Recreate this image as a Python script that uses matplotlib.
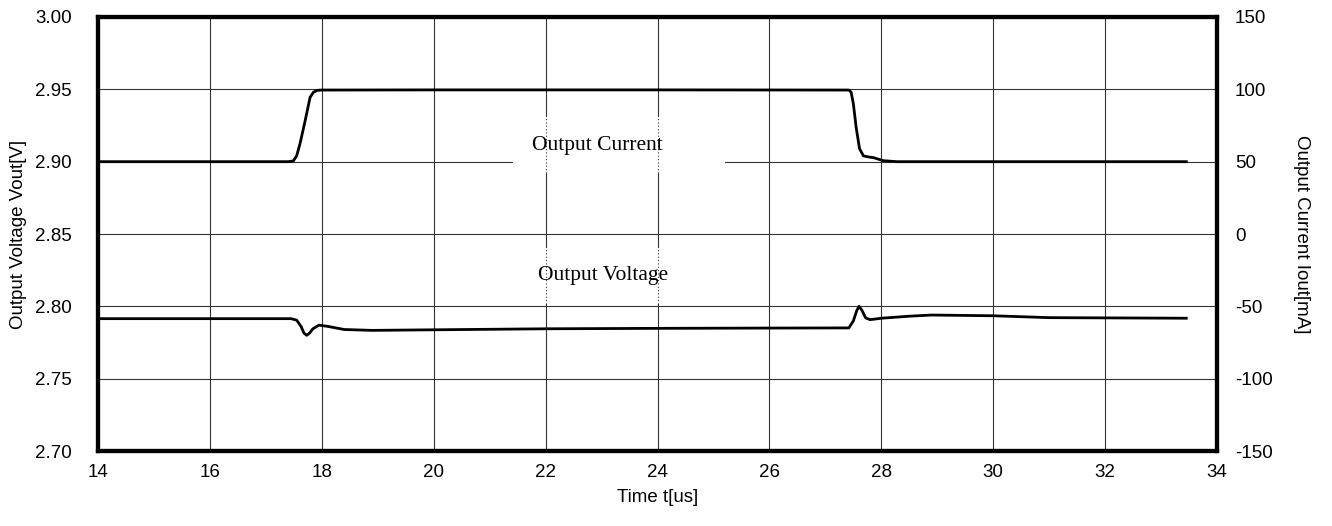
import matplotlib
matplotlib.use("Agg")
import matplotlib.pyplot as plt
from matplotlib.patches import Rectangle

# Output current [mA]
t_cur = [14.0, 17.40, 17.49, 17.55, 17.61, 17.70, 17.79, 17.85, 17.92, 18.0, 20.0, 24.0,
         27.42, 27.46, 27.50, 27.55, 27.61, 27.68, 27.78, 27.86, 28.03, 28.28, 30.0, 33.45]
i_cur = [50.0, 50.0, 50.5, 54.0, 62.5, 78.0, 94.5, 98.0, 99.3, 99.5, 99.6, 99.6,
         99.5, 98.0, 90.0, 73.6, 59.0, 54.0, 53.2, 52.8, 50.7, 50.0, 50.0, 50.0]

# Output voltage [V]
t_volt = [14.0, 17.45, 17.55, 17.63, 17.68, 17.73, 17.78, 17.84, 17.95, 18.1, 18.4, 18.9,
          20.0, 22.0, 24.0, 26.0, 27.42, 27.50, 27.56, 27.60, 27.65, 27.72, 27.80, 28.0,
          28.5, 28.9, 30.0, 31.0, 33.45]
v_volt = [2.7915, 2.7915, 2.7905, 2.7860, 2.7815, 2.7800, 2.7815, 2.7845, 2.7870, 2.7862,
          2.7840, 2.7834, 2.7838, 2.7845, 2.7848, 2.7850, 2.7851, 2.7900, 2.7970, 2.8000,
          2.7975, 2.7920, 2.7908, 2.7918, 2.7932, 2.7940, 2.7935, 2.7922, 2.7918]

x_ticks = list(range(14, 35, 2))
v_ticks = [2.70, 2.75, 2.80, 2.85, 2.90, 2.95, 3.00]
i_ticks = [-150, -100, -50, 0, 50, 100, 150]

plt.rcParams['font.family'] = ['Liberation Sans', 'DejaVu Sans']
plt.rcParams['axes.unicode_minus'] = False
fig = plt.figure(figsize=(13.32, 5.26), dpi=100)
ax = fig.add_axes([0.0736, 0.1425, 0.8401, 0.8252])
ax2 = ax.twinx()

ax.set_xlim(14, 34)
ax.set_ylim(2.70, 3.00)
ax2.set_ylim(-150, 150)
ax.set_xticks(x_ticks)
ax.set_yticks(v_ticks)
ax2.set_yticks(i_ticks)
ax.set_yticklabels([f"{v:.2f}" for v in v_ticks])
ax.grid(True, color='#333333', linewidth=0.8)
ax.set_axisbelow(True)

for a in (ax, ax2):
    for s in a.spines.values():
        s.set_linewidth(3.0)
        s.set_color('black')
ax.tick_params(axis='x', length=0, pad=9, labelsize=13.5)
ax.tick_params(axis='y', length=0, pad=19, labelsize=13.5)
ax2.tick_params(axis='y', length=0, pad=13, labelsize=13.5)

# label boxes (white background behind the annotations)
ax.add_patch(Rectangle((21.42, 2.892), 25.21 - 21.42, 2.9308 - 2.892,
                       facecolor='white', edgecolor='none', zorder=1.5))
ax.add_patch(Rectangle((21.42, 2.8015), 25.21 - 21.42, 2.840 - 2.8015,
                       facecolor='white', edgecolor='none', zorder=1.5))
for xg in (22, 24):
    ax.vlines(xg, 2.892, 2.9308, colors='#333333', linewidth=0.8,
              linestyles=(0, (1, 2)), zorder=1.6)
    ax.vlines(xg, 2.8015, 2.840, colors='#333333', linewidth=0.8,
              linestyles=(0, (1, 2)), zorder=1.6)

ax.plot(t_volt, v_volt, color='black', linewidth=2.0, zorder=3)
ax2.plot(t_cur, i_cur, color='black', linewidth=2.0, zorder=3)

ax.text(22.93, 2.911, "Output Current", family=['Liberation Serif', 'DejaVu Serif'],
        fontsize=15.5, ha='center', va='center', zorder=4)
ax.text(23.03, 2.8215, "Output Voltage", family=['Liberation Serif', 'DejaVu Serif'],
        fontsize=15.5, ha='center', va='center', zorder=4)

ax.set_xlabel("Time t[us]", fontsize=13.5, labelpad=6)
ax.set_ylabel("Output Voltage Vout[V]", fontsize=13.5, labelpad=6)
ax2.set_ylabel("Output Current Iout[mA]", fontsize=13.5, rotation=270, labelpad=27)

fig.savefig("out.png", dpi=100)
